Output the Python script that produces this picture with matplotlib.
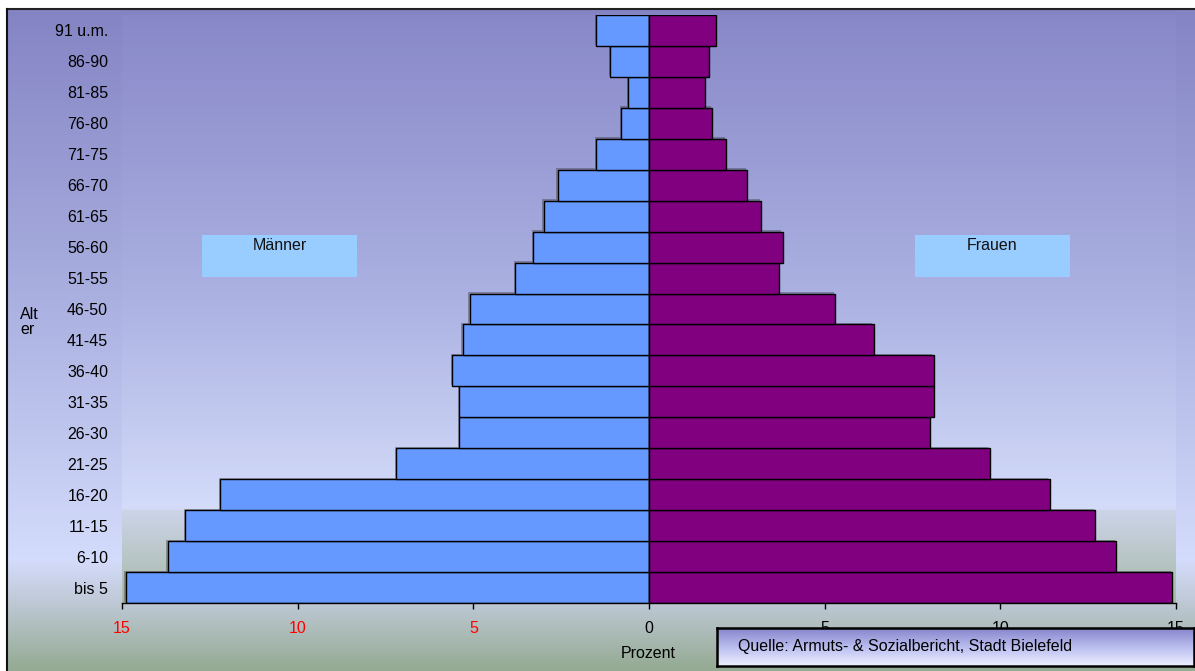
import numpy as np
import matplotlib
matplotlib.use("Agg")
import matplotlib.pyplot as plt
import matplotlib.colors as mcolors
import matplotlib.patheffects as pe

plt.rcParams['font.family'] = ['Liberation Sans', 'DejaVu Sans']
plt.rcParams['font.size'] = 11.5

# Data ----------------------------------------------------------------
ages = ["bis 5", "6-10", "11-15", "16-20", "21-25", "26-30", "31-35", "36-40",
        "41-45", "46-50", "51-55", "56-60", "61-65", "66-70", "71-75", "76-80",
        "81-85", "86-90", "91 u.m."]
maenner = [14.9, 13.7, 13.2, 12.2, 7.2, 5.4, 5.4, 5.6, 5.3, 5.1, 3.8, 3.3,
           3.0, 2.6, 1.5, 0.8, 0.6, 1.1, 1.5]
frauen = [14.9, 13.3, 12.7, 11.4, 9.7, 8.0, 8.1, 8.1, 6.4, 5.3, 3.7, 3.8,
          3.2, 2.8, 2.2, 1.8, 1.6, 1.7, 1.9]
xticks = [-15, -10, -5, 0, 5, 10, 15]
xticklabels = ["15", "10", "5", "0", "5", "10", "15"]

W, H = 1195, 671
FS = 11.5


def gradient(stops, n=671):
    # stops: list of (pixel_y, color) -> column image
    ys = np.array([s[0] for s in stops], dtype=float)
    cols = np.array([mcolors.to_rgb(s[1]) for s in stops])
    yy = np.linspace(ys[0], ys[-1], n)
    img = np.zeros((n, 1, 3))
    for k in range(3):
        img[:, 0, k] = np.interp(yy, ys, cols[:, k])
    return img


fig = plt.figure(figsize=(W / 100, H / 100), dpi=100, facecolor="white")

# background in pixel coordinates
bg = fig.add_axes([0, 0, 1, 1], zorder=0)
bg.set_xlim(0, W)
bg.set_ylim(H, 0)
bg.axis("off")

fig_stops = [(9, "#8484c4"), (300, "#aab0e0"), (560, "#d4dcfc"),
             (600, "#c0cad8"), (671, "#94aa92")]
bg.imshow(gradient(fig_stops), extent=[7, W + 2, H, 9], aspect="auto", zorder=0)

plot_stops = [(15, "#8888c8"), (300, "#acb2e2"), (509, "#d4dcfa"),
              (511, "#ccd4e8"), (603, "#a6b8a6")]
bg.imshow(gradient(plot_stops), extent=[122, 1176, 603, 15], aspect="auto", zorder=1)
bg.set_xlim(0, W)
bg.set_ylim(H, 0)

bg.plot([7, W + 5], [9, 9], color="#222222", lw=1.5, zorder=3)
bg.plot([7, 7], [9, H], color="#111111", lw=1.5, zorder=3)

# label boxes
for x0, x1, txt in [(202, 357, "Männer"), (915, 1070, "Frauen")]:
    bg.add_patch(plt.Rectangle((x0, 235), x1 - x0, 42, facecolor="#99ccff",
                               edgecolor="none", zorder=2))
    bg.text((x0 + x1) / 2, 238, txt, ha="center", va="top", fontsize=FS,
            color="#111111", zorder=3)

# main chart
ax = fig.add_axes([122 / W, (H - 603) / H, (1176 - 122) / W, (603 - 15) / H], zorder=2)
ax.patch.set_visible(False)
y = np.arange(len(ages))
shadow = [pe.SimplePatchShadow(offset=(-1.0, 1.0), shadow_rgbFace="0.15", alpha=0.35),
          pe.Normal()]
b1 = ax.barh(y, -np.array(maenner), height=1.0, color="#6699ff",
             edgecolor="black", linewidth=1.0)
b2 = ax.barh(y, frauen, height=1.0, color="#800080",
             edgecolor="black", linewidth=1.0)
for bar in list(b1) + list(b2):
    bar.set_path_effects(shadow)

ax.set_xlim(-15, 15)
ax.set_ylim(-0.5, len(ages) - 0.5)
ax.set_xticks(xticks)
ax.set_xticklabels(xticklabels)
for lab, t in zip(ax.get_xticklabels(), xticks):
    lab.set_color("red" if t < 0 else "black")
ax.set_yticks(y)
ax.set_yticklabels(ages)
ax.tick_params(axis="y", length=0, pad=10, labelsize=FS)
ax.tick_params(axis="x", direction="out", length=4, width=1, pad=9, labelsize=FS)
for s in ["top", "right", "left"]:
    ax.spines[s].set_visible(False)
ax.spines["bottom"].set_linewidth(1.0)

fig.text(648 / W, 1 - 653 / H, "Prozent", ha="center", va="center", fontsize=FS)
fig.text(20 / W, 1 - 322 / H, "Alt\ner", ha="left", va="center", fontsize=FS,
         linespacing=1.0)

# source box
sx = fig.add_axes([717 / W, (H - 666) / H, (1194 - 717) / W, 38 / H], zorder=5)
box_stops = [(0, "#8585cc"), (0.6, "#c4c8f4"), (1, "#eef0ff")]
sx.imshow(gradient(box_stops, 100), extent=[0, 1, 0, 1], aspect="auto")
sx.set_xlim(0, 1)
sx.set_ylim(0, 1)
sx.set_xticks([])
sx.set_yticks([])
for s in sx.spines.values():
    s.set_linewidth(1.8)
    s.set_color("black")
sx.text(21 / 477, 0.5, "Quelle: Armuts- & Sozialbericht, Stadt Bielefeld",
        ha="left", va="center", fontsize=FS, transform=sx.transAxes)

fig.savefig("out.png", dpi=100)
